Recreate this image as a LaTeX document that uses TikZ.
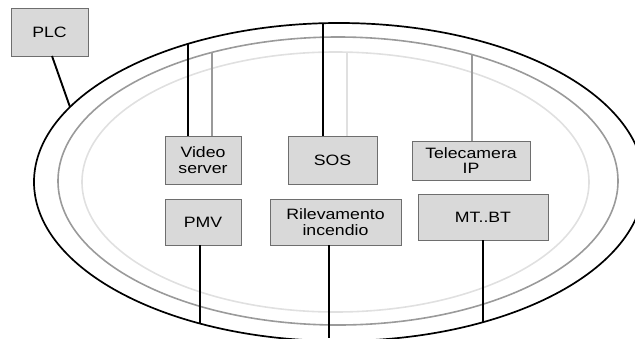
\documentclass[tikz,border=0pt]{standalone}
\usepackage{fontspec}
\setmainfont[FakeStretch=1.18]{Liberation Sans}
\begin{document}
\begin{tikzpicture}[x=1pt,y=-1pt,
  box/.style={draw=boxedge,fill=boxfill,line width=0.9pt,inner sep=0pt,align=center,
    font=\fontsize{15}{15.5}\selectfont},
  blk/.style={draw=black,line width=1.9pt},
  gry/.style={draw=midgray,line width=1.9pt},
  lgt/.style={draw=lightgray2,line width=1.9pt}]
\definecolor{boxfill}{HTML}{D9D9D9}
\definecolor{boxedge}{HTML}{6E6E6E}
\definecolor{midgray}{HTML}{9A9A9A}
\definecolor{lightgray2}{HTML}{E0E0E0}
\useasboundingbox (0,0) rectangle (635,338);
% rings
\draw[blk,line width=1.7pt] (339,182) ellipse [x radius=305, y radius=159];
\draw[gry,line width=1.6pt] (338,181) ellipse [x radius=280, y radius=144];
\draw[lgt,line width=1.6pt] (335.5,182) ellipse [x radius=253.5, y radius=130];
% points on rings
\coordinate (plcE) at ({70},{182-159*sqrt(1-((70-339)/305)^2)});
\coordinate (vsE) at ({188},{182-159*sqrt(1-((188-339)/305)^2)});
\coordinate (vsG) at ({212},{181-144*sqrt(1-((212-338)/280)^2)});
\coordinate (sosE) at ({323},{182-159*sqrt(1-((323-339)/305)^2)});
\coordinate (sosL) at ({347},{182-130*sqrt(1-((347-335.5)/253.5)^2)});
\coordinate (telG) at ({472},{181-144*sqrt(1-((472-338)/280)^2)});
\coordinate (pmvE) at ({200},{182+159*sqrt(1-((200-339)/305)^2)});
\coordinate (rilE) at (329,338);
\coordinate (mtE) at ({483},{182+159*sqrt(1-((483-339)/305)^2)});
% boxes
\node[box,minimum width=77,minimum height=48] (plc) at (49.5,32) {PLC};
\node[box,minimum width=76,minimum height=48] (vs) at (203,160) {Video\\server};
\node[box,minimum width=89,minimum height=48] (sos) at (332.5,160) {SOS};
\node[box,minimum width=118,minimum height=39] (tel) at (471,160.5) {Telecamera\\IP};
\node[box,minimum width=76,minimum height=46] (pmv) at (203,222) {PMV};
\node[box,minimum width=131,minimum height=46] (ril) at (335.5,222) {Rilevamento\\incendio};
\node[box,minimum width=130,minimum height=46] (mt) at (483,217) {MT..BT};
% connectors
\draw[blk] (52,56) -- (plcE);
\draw[blk] (vsE) -- (vsE |- vs.north);
\draw[gry] (vsG) -- (vsG |- vs.north);
\draw[blk] (sosE) -- (sosE |- sos.north);
\draw[lgt] (sosL) -- (sosL |- sos.north);
\draw[gry] (telG) -- (telG |- tel.north);
\draw[blk] (pmvE |- pmv.south) -- (pmvE);
\draw[blk] (rilE |- ril.south) -- (rilE);
\draw[blk] (mtE |- mt.south) -- (mtE);
\end{tikzpicture}
\end{document}
